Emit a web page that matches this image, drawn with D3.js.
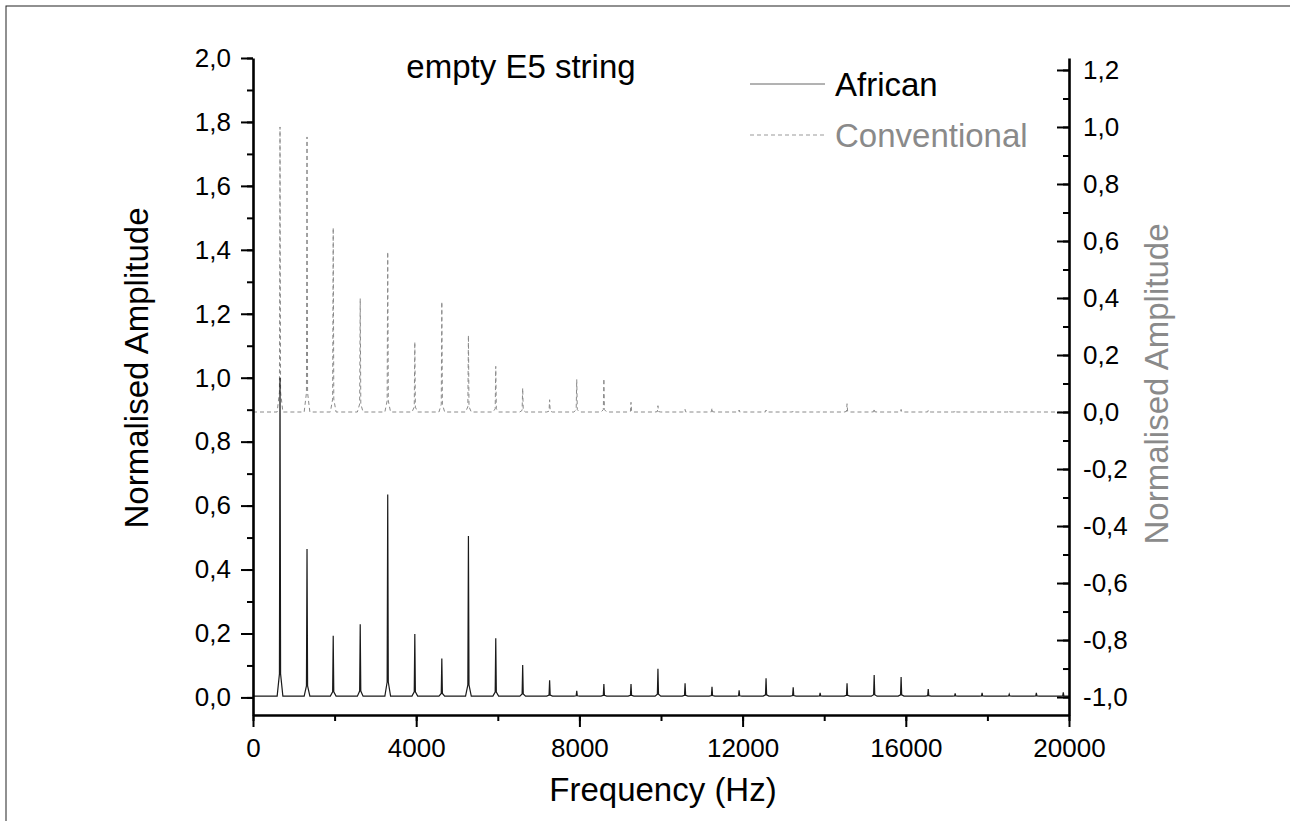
<!DOCTYPE html>
<html>
<head>
<meta charset="utf-8">
<script src="https://cdn.jsdelivr.net/npm/d3@7"></script>
<style>
    body { margin: 0; background: #fff; }
    svg text { font-family: "Liberation Sans", Arial, sans-serif; }
</style>
</head>
<body>
<div class="chart"></div>
<script>
'use strict';
// harmonic peak positions (Hz)
var peakFreqs = [662, 1324, 1966, 2628, 3302, 3966, 4628, 5280, 5950, 6610,
    7270, 7935, 8600, 9265, 9925, 10590, 11250, 11915, 12575, 13240,
    13900, 14560, 15225, 15885, 16550, 17210, 17870, 18535, 19200, 19860];
// African string, left axis
var africanPeaks = [1.0, 0.464, 0.193, 0.229, 0.635, 0.198, 0.122, 0.505, 0.185, 0.101,
    0.054, 0.021, 0.042, 0.042, 0.090, 0.044, 0.033, 0.022, 0.060, 0.032,
    0.014, 0.044, 0.070, 0.064, 0.026, 0.013, 0.014, 0.010, 0.014, 0.016];
// Conventional string, right axis
var conventionalPeaks = [1.0, 0.965, 0.647, 0.398, 0.562, 0.246, 0.387, 0.269, 0.160, 0.084,
    0.043, 0.114, 0.117, 0.034, 0.022, 0.009, 0.014, 0.007, 0.007, 0.004,
    0.002, 0.029, 0.012, 0.009, 0.006, 0.005, 0.004, 0.005, 0.002, 0.002];
var africanBase = 0.004;
var conventionalBase = 0.0;

var xTicks = [0, 4000, 8000, 12000, 16000, 20000];
var leftTicks = [0, 0.2, 0.4, 0.6, 0.8, 1.0, 1.2, 1.4, 1.6, 1.8, 2.0];
var rightTicks = [-1.0, -0.8, -0.6, -0.4, -0.2, 0, 0.2, 0.4, 0.6, 0.8, 1.0, 1.2];

var width = 1290, height = 821;
var margin = {left: 253, right: 1069, top: 58, bottom: 715};

var svg = d3.select(".chart").append("svg")
    .attr("width", width)
    .attr("height", height);

// outer frame (only top/left edges are in view)
svg.append("rect")
    .attr("x", 6).attr("y", 6)
    .attr("width", 1400).attr("height", 900)
    .attr("fill", "none")
    .attr("stroke", "#222")
    .attr("stroke-width", 1);

var x = d3.scaleLinear().domain([0, 20000]).range([margin.left, margin.right]);
var yL = d3.scaleLinear().domain([-0.055, 2.0]).range([margin.bottom, margin.top]);
var yR = d3.scaleLinear().domain([-1.063, 1.242]).range([margin.bottom, margin.top]);

var fmt = function (d) {
    return d3.format(".1f")(d).replace(".", ",").replace("−", "-");
};

// build a spike trace from the peak list
function spectrum(freqs, peaks, base) {
    var pts = [[0, base]];
    for (var i = 0; i < freqs.length; i++) {
        var f = freqs[i], h = peaks[i];
        pts.push([f - 70, base]);
        pts.push([f - 14, base + (h - base) * 0.07]);
        pts.push([f, h]);
        pts.push([f + 14, base + (h - base) * 0.07]);
        pts.push([f + 70, base]);
    }
    pts.push([20000, base]);
    return pts;
}

var lineL = d3.line()
    .x(function (d) { return x(d[0]); })
    .y(function (d) { return yL(d[1]); });
var lineR = d3.line()
    .x(function (d) { return x(d[0]); })
    .y(function (d) { return yR(d[1]); });

svg.append("path")
    .datum(spectrum(peakFreqs, conventionalPeaks, conventionalBase))
    .attr("d", lineR)
    .attr("fill", "none")
    .attr("stroke", "#8a8a8a")
    .attr("stroke-width", 1)
    .attr("stroke-dasharray", "4,3");

svg.append("path")
    .datum(spectrum(peakFreqs, africanPeaks, africanBase))
    .attr("d", lineL)
    .attr("fill", "none")
    .attr("stroke", "#1a1a1a")
    .attr("stroke-width", 1.2);

// minor ticks
function minor(lo, hi, step) {
    var out = [];
    for (var v = lo; v <= hi + 1e-9; v += step) out.push(+v.toFixed(3));
    return out;
}

svg.append("g")
    .attr("transform", "translate(0," + margin.bottom + ")")
    .call(d3.axisBottom(x).tickValues(minor(0, 20000, 2000)).tickSize(6).tickFormat(""))
    .call(function (g) { g.select(".domain").remove(); });
svg.append("g")
    .attr("transform", "translate(" + margin.left + ",0)")
    .call(d3.axisLeft(yL).tickValues(minor(0, 2.0, 0.1)).tickSize(6).tickFormat(""))
    .call(function (g) { g.select(".domain").remove(); });
svg.append("g")
    .attr("transform", "translate(" + margin.right + ",0)")
    .call(d3.axisRight(yR).tickValues(minor(-1.0, 1.2, 0.1)).tickSizeInner(-6).tickSizeOuter(0).tickFormat(""))
    .call(function (g) { g.select(".domain").remove(); });

// major axes
var gx = svg.append("g")
    .attr("transform", "translate(0," + margin.bottom + ")")
    .call(d3.axisBottom(x).tickValues(xTicks).tickSize(12).tickSizeOuter(0).tickPadding(12).tickFormat(d3.format("d")));
var gl = svg.append("g")
    .attr("transform", "translate(" + margin.left + ",0)")
    .call(d3.axisLeft(yL).tickValues(leftTicks).tickSize(12).tickSizeOuter(0).tickPadding(10).tickFormat(fmt));
var gr = svg.append("g")
    .attr("transform", "translate(" + margin.right + ",0)")
    .call(d3.axisRight(yR).tickValues(rightTicks).tickSizeInner(-12).tickSizeOuter(0).tickPadding(14).tickFormat(fmt));

svg.selectAll(".tick line").attr("stroke", "#000").attr("stroke-width", 2);
[gx, gl, gr].forEach(function (g) {
    g.select(".domain").attr("stroke", "#000").attr("stroke-width", 2.6);
    g.selectAll("text").attr("font-size", 26).attr("fill", "#000")
        .attr("font-family", "'Liberation Sans', Arial, sans-serif");
});

// titles
svg.append("text")
    .attr("x", 663).attr("y", 801)
    .attr("text-anchor", "middle")
    .attr("font-size", 33)
    .text("Frequency (Hz)");

svg.append("text")
    .attr("transform", "translate(148,368) rotate(-90)")
    .attr("text-anchor", "middle")
    .attr("font-size", 33)
    .text("Normalised Amplitude");

svg.append("text")
    .attr("transform", "translate(1168,384) rotate(-90)")
    .attr("text-anchor", "middle")
    .attr("font-size", 33)
    .attr("fill", "#8a8a8a")
    .text("Normalised Amplitude");

svg.append("text")
    .attr("x", 521).attr("y", 78)
    .attr("text-anchor", "middle")
    .attr("font-size", 33)
    .text("empty E5 string");

// legend
var legend = [
    {name: "African", color: "#000", line: "#666", dash: null, y: 84},
    {name: "Conventional", color: "#8a8a8a", line: "#999", dash: "4,3", y: 135}
];
legend.forEach(function (d) {
    svg.append("line")
        .attr("x1", 750).attr("x2", 825)
        .attr("y1", d.y).attr("y2", d.y)
        .attr("stroke", d.line)
        .attr("stroke-width", 1)
        .attr("stroke-dasharray", d.dash);
    svg.append("text")
        .attr("x", 835).attr("y", d.y + 12)
        .attr("font-size", 33)
        .attr("fill", d.color)
        .text(d.name);
});
</script>
</body>
</html>
